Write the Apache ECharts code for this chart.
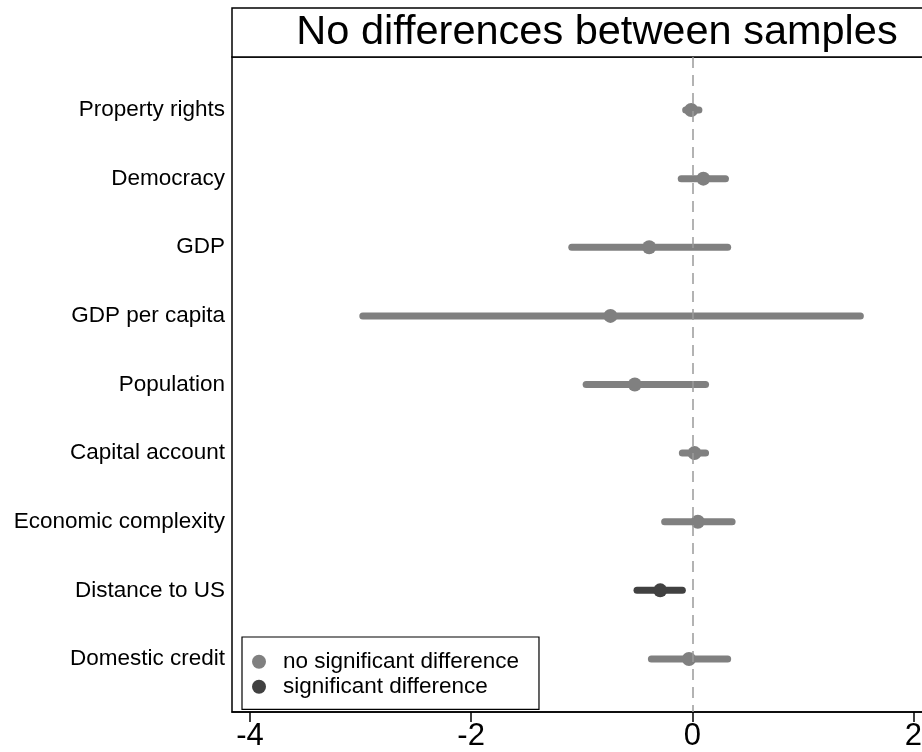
<!DOCTYPE html>
<html><head><meta charset="utf-8">
<script src="https://cdn.jsdelivr.net/npm/echarts@6/dist/echarts.min.js"></script>
<style>html,body{margin:0;padding:0;background:#fff;overflow:hidden}#c{width:922px;height:752px}</style>
</head><body><div id="c"></div>
<script>
// ---- data ----
const categories = ['Property rights','Democracy','GDP','GDP per capita','Population','Capital account','Economic complexity','Distance to US','Domestic credit'];
const estimates   = [-0.01, 0.10, -0.39, -0.74, -0.52, 0.02, 0.05, -0.29, -0.03];
const lowerBounds = [-0.06, -0.10, -1.09, -2.98, -0.96, -0.09, -0.25, -0.50, -0.37];
const upperBounds = [ 0.06, 0.30, 0.32, 1.52, 0.12, 0.12, 0.36, -0.09, 0.32];
const significant = [false,false,false,false,false,false,false,true,false];
const xTicks = [-4, -2, 0, 2];
const titleText = 'No differences between samples';
const legendNames = ['no significant difference', 'significant difference'];

// ---- style ----
const FONT = '"Liberation Sans", Arial, Helvetica, sans-serif';
const LIGHT = '#808080', DARK = '#414141';
const yPos = categories.map((c, i) => i + 1);

const barData = categories.map((c, i) => [yPos[i], lowerBounds[i], upperBounds[i], significant[i] ? 1 : 0]);
const ptsLight = [], ptsDark = [];
categories.forEach((c, i) => { (significant[i] ? ptsDark : ptsLight).push([estimates[i], yPos[i]]); });

const chart = echarts.init(document.getElementById('c'), null, {renderer: 'canvas'});
chart.setOption({
  animation: false,
  backgroundColor: '#fff',
  grid: {left: 232, top: 57, width: 700, bottom: 40, outerBoundsMode: 'none', containLabel: false,
    show: true, borderColor: '#000', borderWidth: 1.5, backgroundColor: 'transparent'},
  xAxis: {
    type: 'value', min: -4.163, max: 2.168,
    axisLine: {show: true, lineStyle: {color: '#000', width: 1.5}},
    axisTick: {show: true, length: 10, lineStyle: {color: '#000', width: 1.5}, customValues: xTicks},
    axisLabel: {customValues: xTicks, fontSize: 31, color: '#000', fontFamily: FONT, margin: 9,
      formatter: v => String(v)},
    splitLine: {show: false}
  },
  yAxis: {
    type: 'value', inverse: true, min: 0.227, max: 9.773,
    axisLine: {show: false}, axisTick: {show: false}, splitLine: {show: false},
    axisLabel: {customValues: yPos, fontSize: 22.5, color: '#000', fontFamily: FONT, margin: 7,
      formatter: v => categories[Math.round(v) - 1] || ''}
  },
  legend: {
    data: legendNames, orient: 'vertical', left: 242, top: 637,
    padding: [13.2, 20, 11.1, 10], itemGap: 2,
    itemWidth: 14, itemHeight: 14, icon: 'circle',
    borderColor: '#000', borderWidth: 1.2, backgroundColor: '#fff',
    textStyle: {fontSize: 22.5, color: '#000', fontFamily: FONT, padding: [0, 0, 0, 12]},
    selectedMode: false
  },
  graphic: [
    {type: 'rect', shape: {x: 232, y: 8, width: 740, height: 49}, style: {fill: '#fff', stroke: '#000', lineWidth: 1.5}, z: 1},
    {type: 'text', x: 597, y: 33, style: {text: titleText, font: '41.5px ' + FONT, fill: '#000', textAlign: 'center', textVerticalAlign: 'middle'}, z: 2}
  ],
  series: [
    {
      type: 'custom', name: 'ci', z: 2, data: barData,
      encode: {x: [1, 2], y: 0},
      renderItem: function (params, api) {
        const y = api.value(0), lo = api.value(1), hi = api.value(2), sig = api.value(3);
        const a = api.coord([lo, y]), b = api.coord([hi, y]);
        return {type: 'line', shape: {x1: a[0], y1: a[1], x2: b[0], y2: b[1]},
          style: {stroke: sig ? DARK : LIGHT, lineWidth: 7, lineCap: 'round'}};
      }
    },
    {
      type: 'line', name: 'zero', z: 3, data: [], silent: true,
      markLine: {silent: true, symbol: ['none', 'none'], label: {show: false},
        lineStyle: {color: '#9a9a9a', width: 1.5, type: [11, 7]},
        data: [{xAxis: 0}]}
    },
    {type: 'scatter', name: legendNames[0], z: 4, data: ptsLight, symbol: 'circle', symbolSize: 14, itemStyle: {color: LIGHT, opacity: 1}},
    {type: 'scatter', name: legendNames[1], z: 4, data: ptsDark, symbol: 'circle', symbolSize: 14, itemStyle: {color: DARK, opacity: 1}}
  ]
});
</script></body></html>
